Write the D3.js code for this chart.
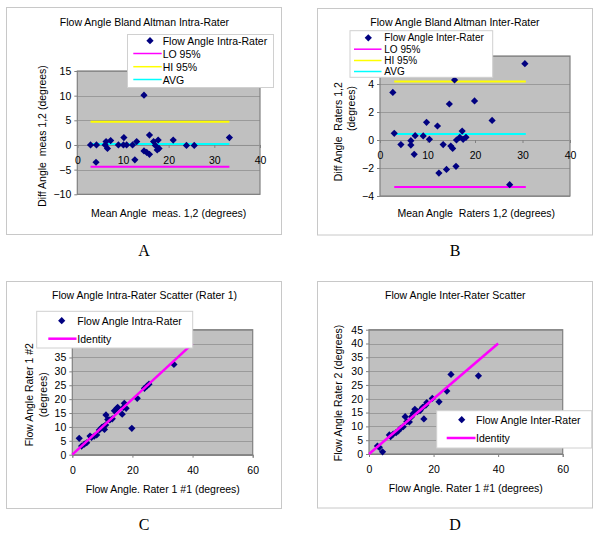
<!DOCTYPE html>
<html><head><meta charset="utf-8">
<script src="https://cdn.jsdelivr.net/npm/d3@7"></script>
<style>body{margin:0;background:#fff}svg{display:block}text{white-space:pre}</style>
</head><body>
<script>
// ---------- DATA ----------
// Panel A: Bland Altman intra-rater
const meanA = [2.9, 4.2, 4.1, 6.1, 6.3, 6.6, 7.3, 9.0, 10.2, 10.1, 10.8, 12.1, 12.6, 13.0, 14.6, 14.6, 15.2, 15.8, 15.8, 16.7, 17.1, 17.5, 17.7, 17.9, 21.0, 23.9, 25.6, 33.3];
const diffA = [0, 0, -3.5, 0, 0.7, -0.7, 0.9, 0, 1.5, 0, 0, 0, -3.0, 0.7, 10.1, -1.2, -1.5, 2.0, -1.9, 0.7, -0.1, -1.0, 1.0, -0.7, 1.0, -0.1, -0.1, 1.5];
const limitsA = {lo: -4.4, hi: 4.7, avg: 0.2, from: 2.9, to: 33.3};
// Panel B: Bland Altman inter-rater
const meanB = [2.7, 3.0, 4.4, 6.5, 6.5, 7.4, 7.2, 9.1, 9.8, 10.4, 12.1, 12.4, 13.3, 14.0, 14.6, 14.9, 15.3, 15.7, 16.0, 16.1, 16.8, 17.3, 17.5, 18.1, 19.9, 23.6, 27.3, 30.5];
const diffB = [3.4, 0.48, -0.33, -0.05, -0.36, 0.31, -1.02, 0.29, 1.26, 0.05, 1.0, -2.36, -0.33, -2.1, 2.57, -0.43, -0.6, 4.29, -1.88, 0, 0.19, 0.64, 0.05, 0.19, 2.79, 1.4, -3.19, 5.45];
const limitsB = {lo: -3.35, hi: 4.18, avg: 0.42, from: 3.0, to: 30.7};
// Panel C: intra-rater scatter (Rater 1)
const r1m1C = [2.3, 3.1, 4.0, 4.8, 5.9, 6.4, 7.3, 8.1, 9.0, 9.8, 10.3, 10.7, 11.1, 11.2, 11.8, 12.5, 13.3, 14.0, 14.8, 15.1, 16.6, 17.0, 17.3, 17.9, 19.8, 21.6, 24.0, 24.8, 25.5, 33.8];
const r1m2C = [5.9, 3.1, 3.8, 4.3, 6.7, 6.2, 6.7, 7.1, 8.9, 9.8, 10.1, 9.1, 10.7, 14.3, 12.7, 12.5, 12.9, 15.8, 16.7, 17.0, 14.6, 17.0, 18.5, 16.7, 9.5, 20.3, 23.9, 24.7, 25.4, 32.5];
// Panel D: inter-rater scatter
const r1D = [2.6, 3.2, 4.2, 6.3, 6.7, 7.5, 8.4, 9.1, 9.8, 10.6, 11.2, 11.7, 12.5, 13.2, 13.7, 14.2, 15.0, 15.8, 16.6, 17.0, 17.6, 17.9, 19.6, 21.7, 24.1, 25.4, 33.9];
const r2D = [2.9, 2.4, 0.8, 6.9, 6.3, 7.2, 7.7, 8.4, 9.3, 9.9, 13.5, 11.7, 11.6, 13.5, 14.7, 16.2, 15.3, 15.7, 16.9, 12.7, 17.7, 18.6, 20.1, 18.9, 22.8, 28.8, 28.3];
const identity = [0, 40];
// Ticks
const xTicksAB = [0, 10, 20, 30, 40];
const yTicksA = [-10, -5, 0, 5, 10, 15];
const yTicksB = [-4, -2, 0, 2, 4, 6];
const xTicksCD = [0, 20, 40, 60];
const yTicksCD = [0, 5, 10, 15, 20, 25, 30, 35, 40, 45];

// ---------- DRAW ----------
const FONT = "'Liberation Sans', Arial, sans-serif";
const FS = 10.5;
const svg = d3.select("body").append("svg").attr("width", 600).attr("height", 538)
  .style("font-family", FONT);

const diamond = d3.symbol().type(d3.symbolSquare).size(26);

function panel(c) {
  const g = svg.append("g");
  g.append("rect").attr("x", c.frame[0]).attr("y", c.frame[1])
    .attr("width", c.frame[2] - c.frame[0]).attr("height", c.frame[3] - c.frame[1])
    .attr("fill", "#fff").attr("stroke", "#c8c8c8");
  const x = d3.scaleLinear().domain(c.xDomain).range([c.plot[0], c.plot[1]]);
  const y = d3.scaleLinear().domain(c.yDomain).range([c.plot[3], c.plot[2]]);
  g.append("rect").attr("x", c.plot[0]).attr("y", c.plot[2])
    .attr("width", c.plot[1] - c.plot[0]).attr("height", c.plot[3] - c.plot[2])
    .attr("fill", "#c0c0c0");
  // gridlines
  g.append("g").selectAll("line").data(c.yTicks).join("line")
    .attr("x1", c.plot[0]).attr("x2", c.plot[1])
    .attr("y1", d => Math.round(y(d)) + 0.5).attr("y2", d => Math.round(y(d)) + 0.5)
    .attr("stroke", "#9a9a9a").attr("stroke-width", 1);
  g.append("rect").attr("x", c.plot[0]).attr("y", c.plot[2])
    .attr("width", c.plot[1] - c.plot[0]).attr("height", c.plot[3] - c.plot[2])
    .attr("fill", "none").attr("stroke", "#808080").attr("stroke-width", 1.2);
  // y axis
  const ya = g.append("g").attr("transform", `translate(${c.plot[0]},0)`)
    .call(d3.axisLeft(y).tickValues(c.yTicks).tickSize(3).tickPadding(3).tickFormat(d3.format("d")));
  ya.select(".domain").remove();
  ya.selectAll("line").attr("stroke", "#808080");
  ya.selectAll("text").attr("font-size", FS).attr("font-family", FONT).attr("fill", "#000");
  // x axis
  const xy = c.xAtZero ? y(0) : c.plot[3];
  const xa = g.append("g").attr("transform", `translate(0,${xy})`)
    .call(d3.axisBottom(x).tickValues(c.xTicks).tickSize(3).tickPadding(8.5).tickFormat(d3.format("d")));
  xa.select(".domain").attr("stroke", c.xAtZero ? "#909090" : "#808080");
  xa.selectAll("line").attr("stroke", "#808080");
  xa.selectAll("text").attr("font-size", FS).attr("font-family", FONT).attr("fill", "#000");

  // lines
  const line = d3.line().x(d => x(d[0])).y(d => y(d[1]));
  (c.lines || []).forEach(L => {
    g.append("path").attr("d", line(L.pts)).attr("fill", "none")
      .attr("stroke", L.color).attr("stroke-width", L.width);
  });
  // points
  g.append("g").selectAll("path").data(c.xs.map((v, i) => [v, c.ys[i]])).join("path")
    .attr("d", diamond)
    .attr("transform", d => `translate(${x(d[0])},${y(d[1])}) rotate(45)`)
    .attr("fill", "#000080");
  (c.linesTop || []).forEach(L => {
    g.append("path").attr("d", line(L.pts)).attr("fill", "none")
      .attr("stroke", L.color).attr("stroke-width", L.width);
  });

  // title
  g.append("text").attr("x", c.title[1]).attr("y", c.title[2]).attr("text-anchor", "middle")
    .attr("dominant-baseline", "central").attr("font-size", FS).text(c.title[0]);
  // x label
  g.append("text").attr("x", c.xLabel[1]).attr("y", c.xLabel[2]).attr("text-anchor", "middle")
    .attr("dominant-baseline", "central").attr("font-size", FS).text(c.xLabel[0]);
  // y label(s)
  c.yLabels.forEach(L => {
    g.append("text").attr("transform", `translate(${L[1]},${L[2]}) rotate(-90)`)
      .attr("text-anchor", "middle").attr("dominant-baseline", "central")
      .attr("font-size", FS).text(L[0]);
  });
  // panel letter
  g.append("text").attr("x", c.letter[1]).attr("y", c.letter[2]).attr("text-anchor", "middle")
    .attr("dominant-baseline", "central").attr("font-size", 16)
    .attr("font-family", "'Liberation Serif', 'Times New Roman', serif").text(c.letter[0]);

  // legend
  const lg = c.legend;
  g.append("rect").attr("x", lg.box[0]).attr("y", lg.box[1])
    .attr("width", lg.box[2] - lg.box[0]).attr("height", lg.box[3] - lg.box[1])
    .attr("fill", "#fff").attr("stroke", "#d0d0d0");
  lg.items.forEach(it => {
    if (it.type === "marker") {
      g.append("path").attr("d", diamond)
        .attr("transform", `translate(${lg.markX},${it.y}) rotate(45)`).attr("fill", "#000080");
    } else {
      g.append("line").attr("x1", lg.lineX[0]).attr("x2", lg.lineX[1])
        .attr("y1", it.y).attr("y2", it.y).attr("stroke", it.color).attr("stroke-width", it.w || 1.5);
    }
    g.append("text").attr("x", lg.textX).attr("y", it.y).attr("dominant-baseline", "central")
      .attr("font-size", lg.fs || FS).text(it.label);
  });
}

function baLines(L) {
  return [
    {pts: [[L.from, L.lo], [L.to, L.lo]], color: "#ff00ff", width: 2},
    {pts: [[L.from, L.hi], [L.to, L.hi]], color: "#ffff00", width: 2},
    {pts: [[L.from, L.avg], [L.to, L.avg]], color: "#00ffff", width: 2}
  ];
}

panel({
  frame: [6.5, 7.5, 281.5, 234.5],
  plot: [77.3, 260, 71, 194.3],
  xDomain: [0, 40], yDomain: [-10, 15],
  xTicks: xTicksAB, yTicks: yTicksA, xAtZero: true,
  xs: meanA, ys: diffA,
  lines: baLines(limitsA),
  title: ["Flow Angle Bland Altman Intra-Rater", 144.5, 21.7],
  xLabel: ["Mean Angle  meas. 1,2 (degrees)", 168.7, 212.5],
  yLabels: [["Diff Angle  meas 1,2 (degrees)", 41.7, 136]],
  letter: ["A", 144, 250],
  legend: {
    box: [127.5, 34.5, 273.5, 87.5], markX: 150, textX: 162.7, lineX: [133.3, 161.7],
    items: [
      {type: "marker", label: "Flow Angle Intra-Rater", y: 40.7},
      {type: "line", color: "#ff00ff", label: "LO 95%", y: 53.5},
      {type: "line", color: "#ffff00", label: "HI 95%", y: 66.7},
      {type: "line", color: "#00ffff", label: "AVG", y: 79.5}
    ]
  }
});

panel({
  frame: [317.5, 8.5, 592.5, 235],
  plot: [380, 570, 56, 196],
  xDomain: [0, 40], yDomain: [-4, 6],
  xTicks: xTicksAB, yTicks: yTicksB, xAtZero: true,
  xs: meanB, ys: diffB,
  lines: baLines(limitsB),
  title: ["Flow Angle Bland Altman Inter-Rater", 455, 21.7],
  xLabel: ["Mean Angle  Raters 1,2 (degrees)", 476.3, 213.3],
  yLabels: [["Diff Angle  Raters 1,2", 338.3, 131.7], ["(degrees)", 351, 108.5]],
  letter: ["B", 455, 250],
  legend: {
    box: [350, 30.7, 492.7, 77.3], markX: 368.3, textX: 384.3, lineX: [354, 381.5], fs: 10,
    items: [
      {type: "marker", label: "Flow Angle Inter-Rater", y: 37.8},
      {type: "line", color: "#ff00ff", label: "LO 95%", y: 49.2},
      {type: "line", color: "#ffff00", label: "HI 95%", y: 60.5},
      {type: "line", color: "#00ffff", label: "AVG", y: 71.5}
    ]
  }
});

panel({
  frame: [6.5, 281.5, 281.5, 508.5],
  plot: [72.3, 252.7, 329.7, 454.7],
  xDomain: [0, 60], yDomain: [0, 45],
  xTicks: xTicksCD, yTicks: yTicksCD, xAtZero: false,
  xs: r1m1C, ys: r1m2C,
  linesTop: [{pts: identity.map(v => [v, v]), color: "#ff00ff", width: 2.5}],
  title: ["Flow Angle Intra-Rater Scatter (Rater 1)", 144.5, 294.7],
  xLabel: ["Flow Angle. Rater 1 #1 (degrees)", 162.8, 488.7],
  yLabels: [["Flow Angle Rater 1 #2", 29.3, 394.7], ["(degrees)", 43.3, 394.7]],
  letter: ["C", 144, 524.7],
  legend: {
    box: [36.7, 311.3, 192.7, 348], markX: 61.7, textX: 77.3, lineX: [48.3, 76.5],
    items: [
      {type: "marker", label: "Flow Angle Intra-Rater", y: 320.7},
      {type: "line", color: "#ff00ff", label: "Identity", y: 338.7, w: 2.5}
    ]
  }
});

panel({
  frame: [317.5, 281.5, 592.5, 508],
  plot: [369, 562.7, 329.7, 454],
  xDomain: [0, 60], yDomain: [0, 45],
  xTicks: xTicksCD, yTicks: yTicksCD, xAtZero: false,
  xs: r1D, ys: r2D,
  linesTop: [{pts: identity.map(v => [v, v]), color: "#ff00ff", width: 2.5}],
  title: ["Flow Angle Inter-Rater Scatter", 455.3, 294.7],
  xLabel: ["Flow Angle. Rater 1 #1 (degrees)", 465.8, 488],
  yLabels: [["Flow Angle Rater 2 (degrees)", 338.3, 393]],
  letter: ["D", 455, 524.7],
  legend: {
    box: [436.7, 410.7, 591.7, 448], markX: 461.7, textX: 476, lineX: [446.7, 475.5],
    items: [
      {type: "marker", label: "Flow Angle Inter-Rater", y: 419.7},
      {type: "line", color: "#ff00ff", label: "Identity", y: 438, w: 2.5}
    ]
  }
});
</script>
</body></html>
